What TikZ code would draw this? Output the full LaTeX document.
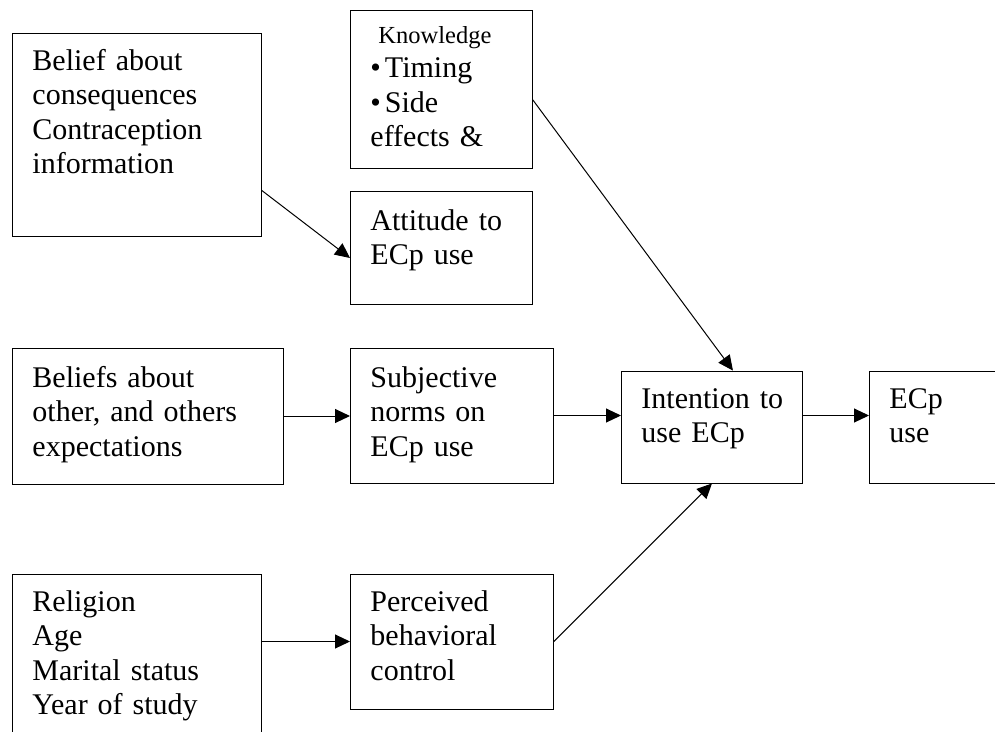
\documentclass[tikz,border=0pt]{standalone}
\usepackage{fontspec}
\setmainfont{Liberation Serif}
\usetikzlibrary{arrows.meta}

\begin{document}
\begin{tikzpicture}[x=1pt, y=-1pt,
    block/.style n args={3}{draw, line width=0.9pt, anchor=base west, align=left, inner xsep=20pt, inner ysep=0pt, text width=#1, text height=#2, text depth=#3, font=\fontsize{30}{34.5}\selectfont},
    arrow/.style={-{Triangle[length=15pt, width=14pt]}, line width=1pt}
]
\useasboundingbox (0,0) rectangle (995,731);
\clip (0,0) rectangle (995,731);

\node[block={209pt}{37pt}{166pt}] (belief) at (12,70) {Belief about\\consequences\\Contraception\\information};
\node[block={142pt}{33pt}{125pt}] (knowl) at (350,43) {\hspace*{8pt}{\fontsize{24.5}{28}\selectfont Knowledge}\\\textbullet\hspace{4pt}Timing\\\textbullet\hspace{4pt}Side\\effects \&};
\node[block={142pt}{39pt}{74pt}] (attit) at (350,230) {Attitude~to\\ECp~use};
\node[block={231pt}{39pt}{97pt}] (others) at (12,387) {Beliefs~about\\other, and~others\\expectations};
\node[block={163pt}{39pt}{96pt}] (norms) at (350,387) {Subjective\\norms~on\\ECp~use};
\node[block={141pt}{37pt}{75pt}] (intent) at (621,408) {Intention~to\\use~ECp};
\node[block={130pt}{37pt}{75pt}] (ecpuse) at (869,408) {ECp\\use};
\node[block={209pt}{37pt}{129pt}] (relig) at (12,611) {Religion\\Age\\Marital~status\\Year~of~study};
\node[block={163pt}{37pt}{98pt}] (percv) at (350,611) {Perceived\\behavioral\\control};

\draw[arrow] ([yshift=-158pt]belief.north east) -- ([yshift=-10.5pt]attit.west);
\draw[arrow] ([yshift=-11pt]knowl.east) -- ([xshift=21pt]intent.north);
\draw[arrow] (others.east) -- (others.east -| norms.west);
\draw[arrow] (norms.east) -- (norms.east -| intent.west);
\draw[arrow] (norms.east -| intent.east) -- (norms.east -| ecpuse.west);
\draw[arrow] (percv.west -| relig.east) -- (percv.west);
\draw[arrow] (percv.east) -- (intent.south);
\end{tikzpicture}
\end{document}
